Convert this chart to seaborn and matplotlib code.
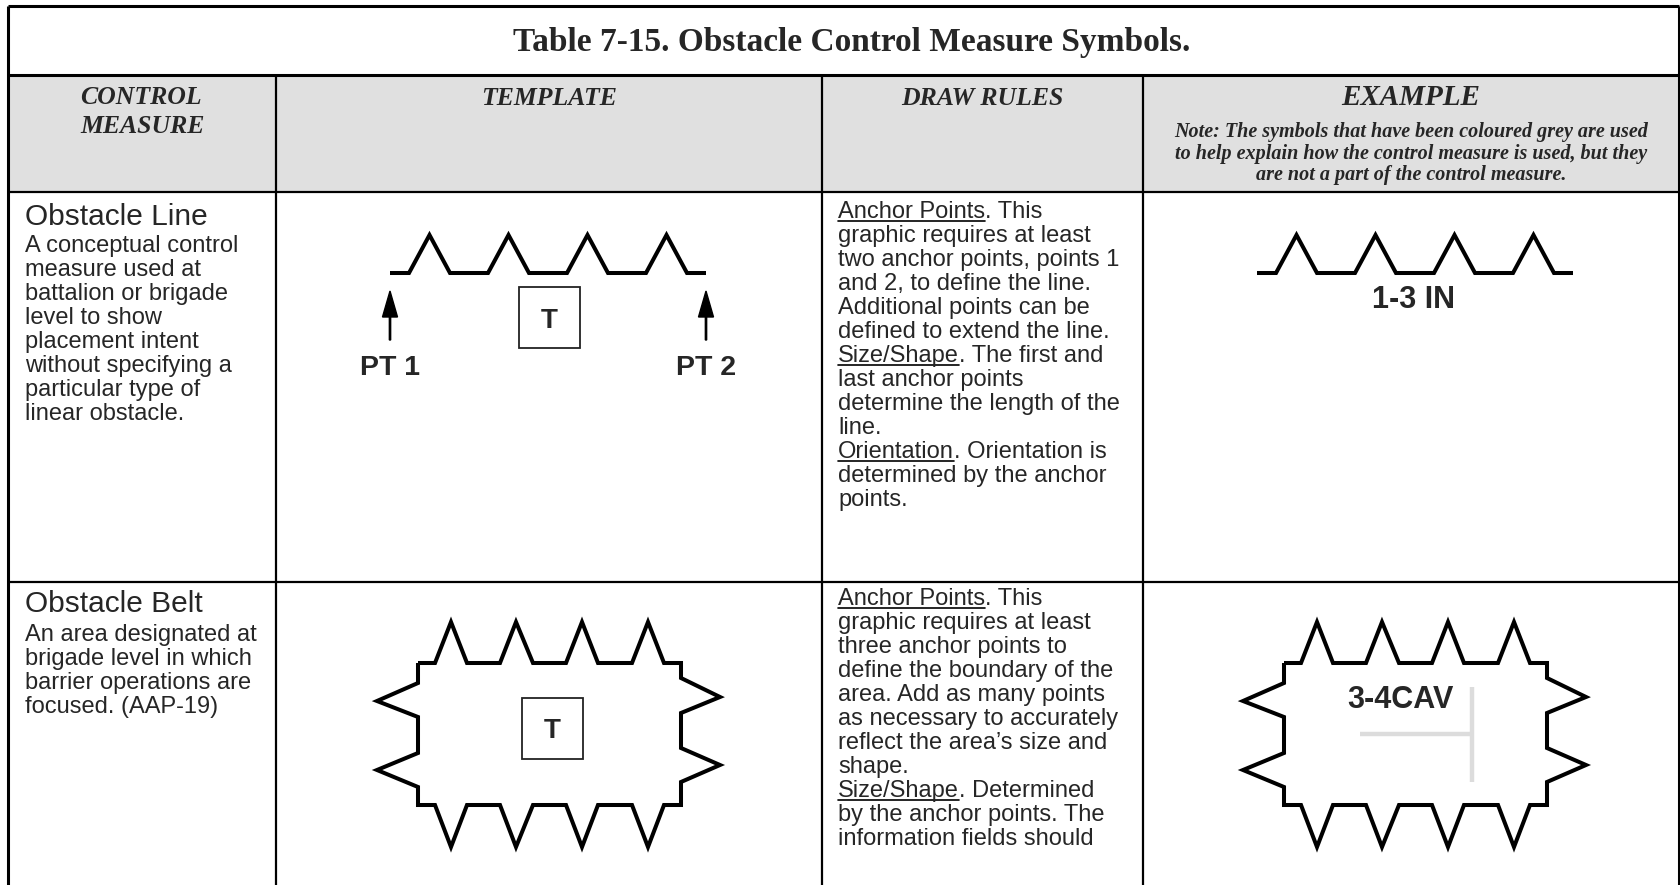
import numpy as np
import pandas as pd
import matplotlib
matplotlib.use("Agg")
import matplotlib.pyplot as plt
import seaborn as sns
from matplotlib.patches import Rectangle

# ---------------- data (text content and symbol shapes) ----------------
TITLE = "Table 7-15. Obstacle Control Measure Symbols."
HEADER_LEFT = ["CONTROL", "MEASURE"]
HEADERS = ["TEMPLATE", "DRAW RULES", "EXAMPLE"]
NOTE_LINES = ["Note: The symbols that have been coloured grey are used",
              "to help explain how the control measure is used, but they",
              "are not a part of the control measure."]
ROW_NAMES = ["Obstacle Line", "Obstacle Belt"]
ROW_DESCRIPTIONS = [
    ["A conceptual control", "measure used at", "battalion or brigade",
     "level to show", "placement intent", "without specifying a",
     "particular type of", "linear obstacle."],
    ["An area designated at", "brigade level in which",
     "barrier operations are", "focused. (AAP-19)"],
]
DRAW_RULES = [
    [("Anchor Points", ". This"), ("", "graphic requires at least"),
     ("", "two anchor points, points 1"), ("", "and 2, to define the line."),
     ("", "Additional points can be"), ("", "defined to extend the line."),
     ("Size/Shape", ". The first and"), ("", "last anchor points"),
     ("", "determine the length of the"), ("", "line."),
     ("Orientation", ". Orientation is"), ("", "determined by the anchor"),
     ("", "points.")],
    [("Anchor Points", ". This"), ("", "graphic requires at least"),
     ("", "three anchor points to"), ("", "define the boundary of the"),
     ("", "area. Add as many points"), ("", "as necessary to accurately"),
     ("", "reflect the area\u2019s size and"), ("", "shape."),
     ("Size/Shape", ". Determined"), ("", "by the anchor points. The"),
     ("", "information fields should")],
]
ANCHOR_LABELS = ["PT 1", "PT 2"]
TEMPLATE_FIELD = "T"
EXAMPLE_LABELS = ["1-3 IN", "3-4CAV"]

# obstacle-line zigzag (offsets from first anchor point)
LINE_DX = [0, 19, 39.5, 60, 98, 118.5, 139, 177, 197.5, 218, 256, 276.5, 297, 316]
LINE_DY = [0, 0, -38, 0, 0, -38, 0, 0, -38, 0, 0, -38, 0, 0]
# obstacle-belt outline (offsets from top-left corner)
BELT_DX = [0, 17, 33, 49, 82, 98, 115, 148, 164, 180, 214, 230, 246, 263,
           263, 302, 263, 263, 302, 263, 263,
           246, 230, 214, 180, 164, 148, 115, 98, 82, 49, 33, 17, 0,
           0, -41, 0, 0, -41, 0, 0]
BELT_DY = [0, 0, -41, 0, 0, -41, 0, 0, -41, 0, 0, -41, 0, 0,
           15, 34, 50, 85, 102, 119, 142,
           142, 184, 142, 142, 184, 142, 142, 184, 142, 142, 184, 142, 142,
           124, 107, 90, 54, 38, 20, 0]
# grey helper symbol in belt example (offsets from its left end)
GREY_DX = [[0, 112], [112, 112]]
GREY_DY = [[0, 0], [-47, 48]]

# ---------------- layout ----------------
W, H = 1681, 885
COL_X = [8, 276, 822, 1143, 1679]
ROW_Y = [6, 75, 192, 582, H]
HEADER_GREY = "#E0E0E0"
BODY_PT = 17
SERIF = ["Liberation Serif", "DejaVu Serif"]
SANS = ["Liberation Sans", "DejaVu Sans"]

sns.set_theme(style="white")
plt.rcParams['font.family'] = SANS

fig = plt.figure(figsize=(W / 100, H / 100), dpi=100)
ax = fig.add_axes([0, 0, 1, 1])
ax.set_xlim(0, W)
ax.set_ylim(H, 0)
ax.axis("off")

# header background
ax.add_patch(Rectangle((COL_X[0], ROW_Y[1]), COL_X[-1] - COL_X[0], ROW_Y[2] - ROW_Y[1],
                       facecolor=HEADER_GREY, edgecolor="none", zorder=0))

# grid lines
ax.hlines([ROW_Y[0], ROW_Y[1]], COL_X[0], COL_X[-1], color="black", lw=2.2, zorder=3)
ax.hlines([ROW_Y[2], ROW_Y[3]], COL_X[0], COL_X[-1], color="black", lw=1.6, zorder=3)
ax.vlines([COL_X[0], COL_X[-1]], ROW_Y[0], H, color="black", lw=2.2, zorder=3)
ax.vlines(COL_X[1:-1], ROW_Y[1], H, color="black", lw=1.6, zorder=3)

# title and headers
ax.text(852, 43, TITLE, ha="center", va="center", fontsize=24, fontweight="bold",
        family=SERIF)
for i, t in enumerate(HEADER_LEFT):
    ax.text(80, 104 + 29 * i, t, ha="left", va="baseline", fontsize=18.5,
            fontweight="bold", style="italic", family=SERIF)
hx = [(COL_X[1] + COL_X[2]) / 2, (COL_X[2] + COL_X[3]) / 2, (COL_X[3] + COL_X[4]) / 2]
for i, t in enumerate(HEADERS):
    ax.text(hx[i], 105, t, ha="center", va="baseline",
            fontsize=21 if i == 2 else 18.5, fontweight="bold", style="italic",
            family=SERIF)
for i, t in enumerate(NOTE_LINES):
    ax.text(hx[2], 137 + 21.5 * i, t, ha="center", va="baseline", fontsize=14.5,
            fontweight="bold", style="italic", family=SERIF)

# left column
name_base = [225, 612]
desc_base = [252, 641]
for r in range(2):
    ax.text(25, name_base[r], ROW_NAMES[r], ha="left", va="baseline", fontsize=21.5)
    for k, line in enumerate(ROW_DESCRIPTIONS[r]):
        ax.text(25, desc_base[r] + 24 * k, line, ha="left", va="baseline",
                fontsize=BODY_PT)

# draw-rules column with underlined headings
renderer = fig.canvas.get_renderer()
rule_base = [218, 605]
RULE_STEP = 24
for r in range(2):
    for k, (u, rest) in enumerate(DRAW_RULES[r]):
        y = rule_base[r] + RULE_STEP * k
        x = 838
        if u:
            t = ax.text(x, y, u, ha="left", va="baseline", fontsize=BODY_PT)
            bb = t.get_window_extent(renderer)
            ax.plot([x, x + bb.width], [y + 3, y + 3], color="black", lw=1.2)
            x = x + bb.width
        ax.text(x, y, rest, ha="left", va="baseline", fontsize=BODY_PT)

# symbols
LW = 2.9
line_origins = [(390, 273), (1257, 273)]
for ox, oy in line_origins:
    df = pd.DataFrame({"x": np.array(LINE_DX) + ox, "y": np.array(LINE_DY) + oy})
    sns.lineplot(data=df, x="x", y="y", sort=False, estimator=None, color="black",
                 linewidth=LW, ax=ax, solid_joinstyle="miter", solid_capstyle="butt")
belt_origins = [(418, 663), (1284, 663)]
for ox, oy in belt_origins:
    df = pd.DataFrame({"x": np.array(BELT_DX) + ox, "y": np.array(BELT_DY) + oy})
    sns.lineplot(data=df, x="x", y="y", sort=False, estimator=None, color="black",
                 linewidth=LW, ax=ax, solid_joinstyle="miter", solid_capstyle="butt")

# anchor arrows and labels
ox, oy = line_origins[0]
anchor_x = [ox + LINE_DX[0], ox + LINE_DX[-1]]
for i, axx in enumerate(anchor_x):
    ax.arrow(axx, 340, 0, -49, width=1.3, head_width=15, head_length=26,
             length_includes_head=True, color="black")
    ax.text(axx, 375, ANCHOR_LABELS[i], ha="center", va="baseline", fontsize=20.5,
            fontweight="bold")

# T boxes
for bx, by in [(519, 287), (522, 698)]:
    ax.add_patch(Rectangle((bx, by), 61, 61, fill=False, edgecolor="#222222", lw=1.3))
    ax.text(bx + 30.5, by + 30.5, TEMPLATE_FIELD, ha="center", va="center_baseline",
            fontsize=20, fontweight="bold")

# example labels
ax.text(1414, 296, EXAMPLE_LABELS[0], ha="center", va="center_baseline", fontsize=22,
        fontweight="bold")
ax.text(1400, 697, EXAMPLE_LABELS[1], ha="center", va="center_baseline", fontsize=22,
        fontweight="bold")
for gx, gy in zip(GREY_DX, GREY_DY):
    ax.plot(np.array(gx) + 1360, np.array(gy) + 734, color="#DCDCDC", lw=3.2,
            solid_capstyle="butt")

ax.set_xlim(0, W)
ax.set_ylim(H, 0)
ax.axis("off")
fig.savefig("out.png", dpi=100, facecolor="white")
